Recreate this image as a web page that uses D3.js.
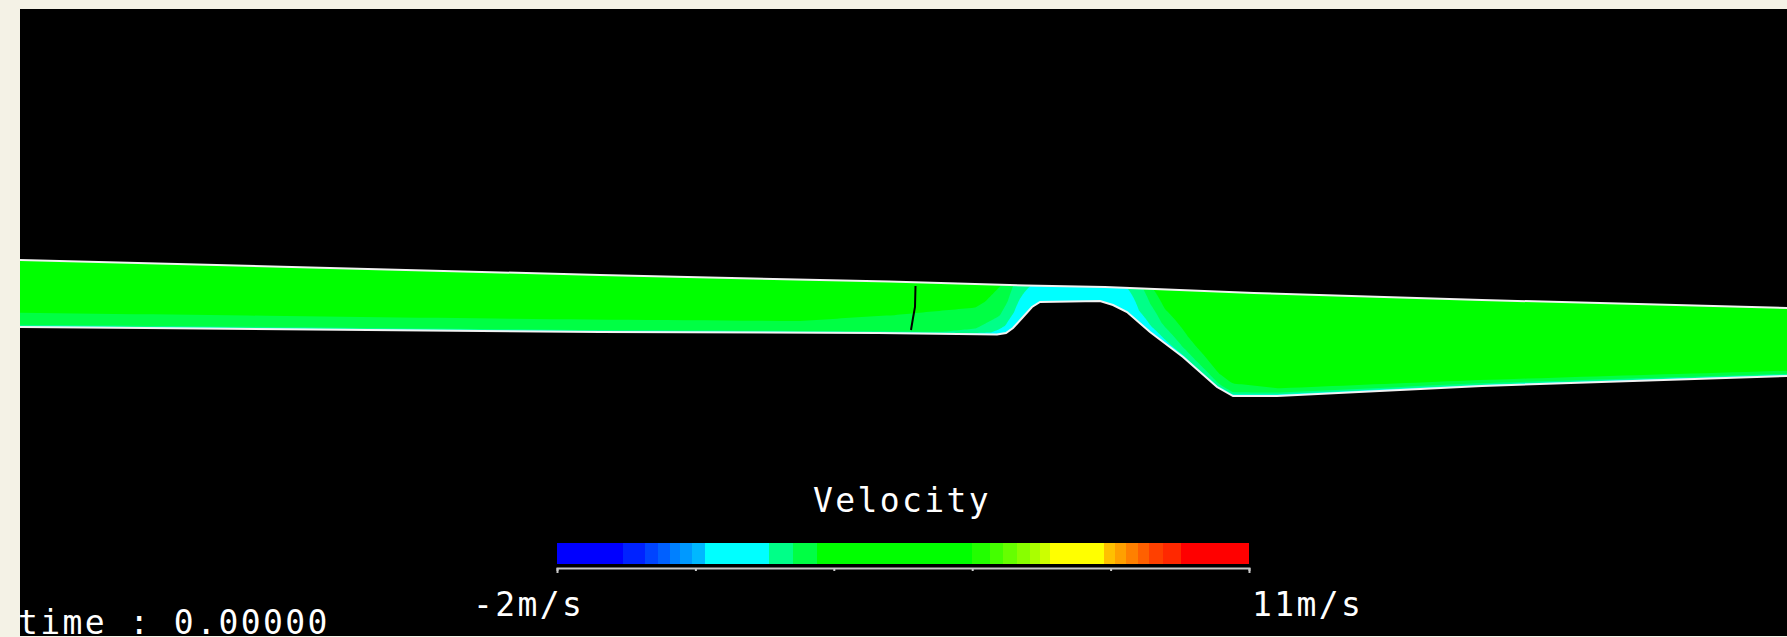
<!DOCTYPE html>
<html>
<head>
<meta charset="utf-8">
<script src="https://cdn.jsdelivr.net/npm/d3@7"></script>
<style>
  html, body { margin: 0; padding: 0; background: #f4f2e6; }
  svg { display: block; }
  text { font-family: "DejaVu Sans Mono", monospace; font-size: 33px; fill: #fff; letter-spacing: 2.4px; }
</style>
</head>
<body>
<svg id="chart" width="1787" height="637"></svg>
<script>
// channel geometry, chainage (m) and elevation (m)
const surfaceCh = [0, 58, 86.9, 100.6, 108.5, 123.4, 146.2, 176.7]
const surfaceEl = [37.6, 36.1, 35.45, 35.05, 34.9, 34.3, 33.6, 32.8]
const bedCh = [0, 12.5, 58, 85.8, 97.7, 98.6, 99.3, 100.3, 101.2, 102.0, 108.0, 109.3, 110.7, 113.0, 116.3, 119.7, 121.3, 125.7, 146.2, 176.7]
const bedEl = [30.9, 30.8, 30.4, 30.3, 30.15, 30.3, 30.8, 31.9, 32.9, 33.4, 33.5, 33.1, 32.4, 30.4, 27.9, 24.9, 24.0, 24.0, 25.0, 26.0]

// velocity samples (m/s): stations along the channel x depth fraction above bed
const gridCh = [0, 38, 78, 88, 95.5, 98, 100, 102, 105, 108, 110, 112, 114.5, 117.5, 121, 126, 148, 176.7]
const gridDepth = [0, 0.04, 0.15, 0.35, 0.65, 1]
const velBed = [1.6, 1.6, 1.6, 1.6, 1.5, 1.3, 1.2, 1.0, 1.0, 1.1, 1.2, 1.4, 1.6, 1.8, 1.7, 1.6, 1.6, 1.5]
const vel04  = [2.6, 2.6, 2.6, 2.6, 2.3, 1.8, 1.4, 1.2, 1.2, 1.3, 1.4, 1.6, 1.9, 2.2, 2.5, 2.6, 2.6, 2.6]
const vel15  = [2.6, 2.6, 2.6, 2.65, 2.5, 2.1, 1.6, 1.4, 1.3, 1.4, 1.5, 1.8, 2.2, 2.6, 3.0, 3.5, 3.6, 3.4]
const vel35  = [3.5, 3.5, 3.4, 2.85, 2.7, 2.4, 1.8, 1.5, 1.4, 1.5, 1.6, 2.0, 2.5, 3.0, 3.6, 4.0, 4.0, 4.0]
const vel65  = [4.0, 4.0, 4.0, 3.5, 3.0, 2.7, 2.0, 1.6, 1.5, 1.6, 1.7, 2.1, 2.9, 3.6, 4.0, 4.0, 4.0, 4.0]
const velTop = [4.0, 4.0, 4.0, 4.0, 3.3, 2.9, 2.2, 1.8, 1.6, 1.7, 1.8, 2.3, 3.4, 4.0, 4.0, 4.0, 4.0, 4.0]

// the little black trace in the upstream reach
const markerCh = [89.55, 89.5, 89.3, 89.1]
const markerEl = [35.0, 32.9, 31.8, 30.6]

// colour legend
const vMin = -2
const vMax = 11
const barStops = [-2, -0.76, -0.35, -0.1, 0.12, 0.31, 0.54, 0.78, 1.98, 2.43, 2.88, 5.8, 6.13, 6.38, 6.64, 6.89, 7.07, 7.26, 8.28, 8.48, 8.69, 8.91, 9.12, 9.38, 9.72]
const barColors = ["#0000ff", "#0022ff", "#0044ff", "#0060ff", "#0080ff", "#0099ff", "#00b8ff", "#00ffff", "#00ff88", "#00ff44", "#00ff00", "#22ff00", "#44ff00", "#66ff00", "#88ff00", "#aaff00", "#ccff00", "#ffff00", "#ffc000", "#ffa000", "#ff8000", "#ff6000", "#ff4000", "#ff2800", "#ff0000"]
const barTicks = [-2, 0.6, 3.2, 5.8, 8.4, 11]
const legendTitle = "Velocity"
const timeLabel = "time : 0.00000"

const svg = d3.select("#chart")

svg.append("rect")
  .attr("x", 20).attr("y", 9)
  .attr("width", 1767).attr("height", 627)
  .attr("fill", "#000")

const x = d3.scaleLinear().domain([0, 176.7]).range([20, 1787])
const y = d3.scaleLinear().domain([0, 62.7]).range([636, 9])

const bedAt = d3.scaleLinear().domain(bedCh).range(bedEl)
const surfAt = d3.scaleLinear().domain(surfaceCh).range(surfaceEl)

// velocity field as filled contours on the (station, depth) grid
const n = gridCh.length
const m = gridDepth.length
const values = [velBed, vel04, vel15, vel35, vel65, velTop].flat()
const bands = d3.contours().size([n, m]).thresholds(barStops)(values)

const colScale = d3.scaleLinear()
  .domain([0, ...d3.range(n).map(i => i + 0.5), n])
  .range([gridCh[0], ...gridCh, gridCh[n - 1]])
const rowScale = d3.scaleLinear()
  .domain([0, ...d3.range(m).map(j => j + 0.5), m])
  .range([0, ...gridDepth, 1])

function project([cx, cy]) {
  const ch = colScale(cx)
  const f = rowScale(cy)
  const b = bedAt(ch)
  const s = surfAt(ch)
  return [x(ch), y(b + f * (s - b))]
}

function ringPath(ring) {
  const pts = []
  for (let k = 0; k < ring.length - 1; k++) {
    const [x0, y0] = ring[k]
    const [x1, y1] = ring[k + 1]
    const steps = Math.max(1, Math.ceil(Math.hypot(x1 - x0, y1 - y0) / 0.05))
    for (let s = 0; s < steps; s++) {
      pts.push(project([x0 + (x1 - x0) * s / steps, y0 + (y1 - y0) * s / steps]))
    }
  }
  return "M" + pts.map(p => p[0].toFixed(2) + "," + p[1].toFixed(2)).join("L") + "Z"
}

svg.append("g")
  .selectAll("path")
  .data(bands)
  .join("path")
  .attr("d", d => d.coordinates.map(poly => poly.map(ringPath).join("")).join(""))
  .attr("fill", (d, i) => barColors[i])

const line = d3.line().x(d => x(d[0])).y(d => y(d[1]))

svg.append("path")
  .datum(d3.zip(surfaceCh, surfaceEl))
  .attr("d", line)
  .attr("fill", "none")
  .attr("stroke", "#f2f2f2")
  .attr("stroke-width", 2)

svg.append("path")
  .datum(d3.zip(bedCh, bedEl))
  .attr("d", line)
  .attr("fill", "none")
  .attr("stroke", "#f2f2f2")
  .attr("stroke-width", 2)

svg.append("path")
  .datum(d3.zip(markerCh, markerEl))
  .attr("d", line)
  .attr("fill", "none")
  .attr("stroke", "#000")
  .attr("stroke-width", 2)

// legend bar
const vScale = d3.scaleLinear().domain([vMin, vMax]).range([557, 1249])

svg.append("g")
  .attr("shape-rendering", "crispEdges")
  .selectAll("rect")
  .data(barStops)
  .join("rect")
  .attr("x", d => vScale(d))
  .attr("width", (d, i) => vScale(i < barStops.length - 1 ? barStops[i + 1] : vMax) - vScale(d))
  .attr("y", 543)
  .attr("height", 21)
  .attr("fill", (d, i) => barColors[i])

const axis = svg.append("g")
  .attr("transform", "translate(0,568)")
  .call(d3.axisBottom(vScale).tickValues(barTicks).tickSize(3).tickSizeOuter(5).tickFormat(""))
axis.select(".domain").attr("stroke", "#c8c8c8").attr("stroke-width", 2)
axis.selectAll(".tick line").attr("stroke", "#c8c8c8").attr("stroke-width", 2)

svg.append("text").attr("x", 813).attr("y", 512).text(legendTitle)
svg.append("text").attr("x", 473).attr("y", 616).attr("letter-spacing", "1.2px").text(`${vMin}m/s`)
svg.append("text").attr("x", 1252).attr("y", 616).text(`${vMax}m/s`)
svg.append("text").attr("x", 18).attr("y", 634).text(timeLabel)
</script>
</body>
</html>
